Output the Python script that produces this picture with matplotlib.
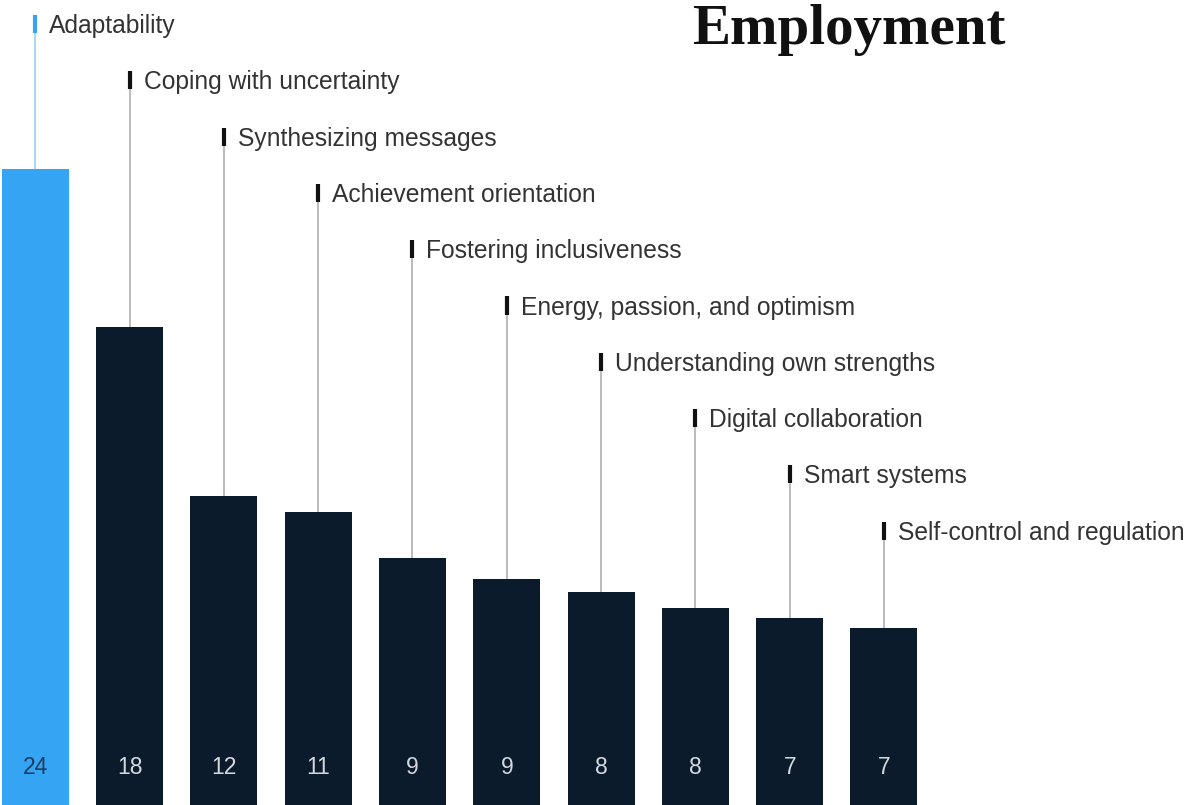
import matplotlib
matplotlib.use("Agg")
import matplotlib.pyplot as plt

# ---- data ----
skills = [
    "Adaptability",
    "Coping with uncertainty",
    "Synthesizing messages",
    "Achievement orientation",
    "Fostering inclusiveness",
    "Energy, passion, and optimism",
    "Understanding own strengths",
    "Digital collaboration",
    "Smart systems",
    "Self-control and regulation",
]
values = [24, 18.06, 11.66, 11.07, 9.31, 8.52, 8.03, 7.45, 7.07, 6.67]
value_labels = ["24", "18", "12", "11", "9", "9", "8", "8", "7", "7"]
title = "Employment"

# ---- layout ----
W, H = 1187, 805
PX_PER_UNIT = 26.49          # vertical pixels per value unit
BAR_PITCH = 94.3             # px between bar centres
FIRST_CENTER = 35.3          # px of first bar centre
MARK_TOP0, MARK_LEN, MARK_STEP = 15.0, 18.0, 56.3   # label marker layout in px

fig = plt.figure(figsize=(W / 100, H / 100), dpi=100)
ax = fig.add_axes([0, 0, 1, 1])
ax.set_xlim(-FIRST_CENTER / BAR_PITCH, (W - FIRST_CENTER) / BAR_PITCH)
ax.set_ylim(0, H / PX_PER_UNIT)
ax.axis("off")

blue = "#35a5f3"
navy = "#0b1b2c"
bar_colors = [blue] + [navy] * (len(values) - 1)
line_colors = ["#9fd2f7"] + ["#b5b5b5"] * (len(values) - 1)
mark_colors = [blue] + ["#111111"] * (len(values) - 1)
num_colors = ["#1b3d63"] + ["#d3d8de"] * (len(values) - 1)

xs = list(range(len(values)))
ax.bar(xs, values, width=67 / BAR_PITCH, color=bar_colors, linewidth=0, zorder=2)

def px_to_y(p):
    return (H - p) / PX_PER_UNIT

label_font = "Liberation Sans"
for i, (x, v, name) in enumerate(zip(xs, values, skills)):
    top_px = MARK_TOP0 + MARK_STEP * i
    bot_px = top_px + MARK_LEN
    # leader line from bar top up to marker
    ax.plot([x, x], [v, px_to_y(bot_px)], color=line_colors[i], lw=1.3,
            solid_capstyle="butt", zorder=1)
    # short thick marker
    ax.plot([x, x], [px_to_y(bot_px), px_to_y(top_px)], color=mark_colors[i],
            lw=3.0, solid_capstyle="butt", zorder=3)
    ax.text(x + 14 / BAR_PITCH, px_to_y(bot_px), name, ha="left", va="baseline",
            fontsize=17.7, color="#333333", family=label_font)
    ax.text(x, px_to_y(767.5), value_labels[i], ha="center", va="center",
            fontsize=16.5, color=num_colors[i], family=label_font, zorder=4)

fig.text(692 / W, 1 - 44 / H, title, ha="left", va="baseline",
         fontsize=41, fontweight="bold", family="Liberation Serif", color="#111111")

fig.savefig("out.png", dpi=100, facecolor="white")
